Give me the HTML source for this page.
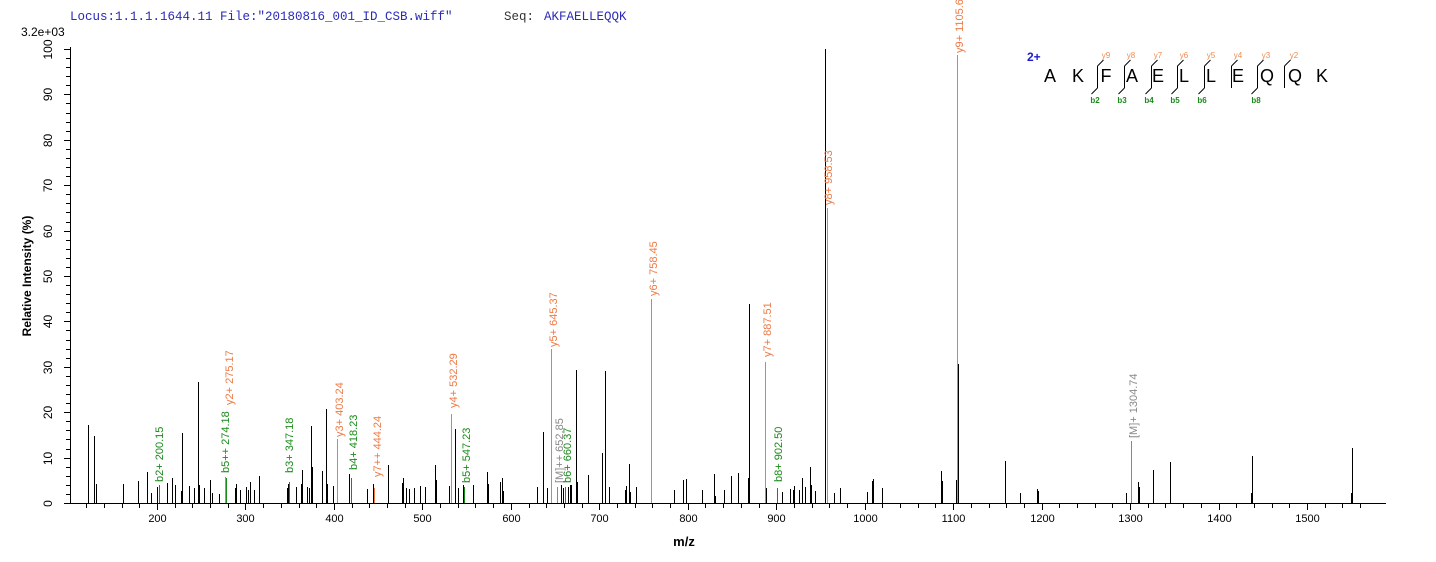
<!DOCTYPE html>
<html><head><meta charset="utf-8"><style>
html,body{margin:0;padding:0;background:#fff;width:1436px;height:562px;overflow:hidden}
svg{display:block}
text{font-family:"Liberation Sans",Arial,sans-serif}
</style></head><body>
<svg width="1436" height="562" xmlns="http://www.w3.org/2000/svg">
<text x="70" y="20" font-family="Liberation Mono,monospace" font-size="12.5" fill="#2a2ab8" style="font-family:'Liberation Mono',monospace">Locus:1.1.1.1644.11 File:"20180816_001_ID_CSB.wiff"</text>
<text x="504" y="20" font-size="12.5" fill="#333" style="font-family:'Liberation Mono',monospace">Seq:</text>
<text x="544" y="20" font-size="12.5" fill="#2a2ab8" style="font-family:'Liberation Mono',monospace">AKFAELLEQQK</text>
<text x="21" y="36" font-size="12" fill="#000">3.2e+03</text>
<g id="axes" stroke="#000" stroke-width="1" shape-rendering="crispEdges">
<line x1="70.5" y1="47" x2="70.5" y2="503"/>
<line x1="70" y1="503.5" x2="1386" y2="503.5"/>
</g>
<g id="yt" stroke="#000" shape-rendering="crispEdges"></g>
<g id="yl" font-size="12" fill="#000"></g>
<g id="xt" stroke="#000" shape-rendering="crispEdges"></g>
<g id="xl" font-size="11" fill="#000" text-anchor="middle"></g>
<text transform="translate(31,276) rotate(-90)" font-size="12" font-weight="bold" text-anchor="middle">Relative   Intensity (%)</text>
<text x="684" y="546" font-size="13" font-weight="bold" text-anchor="middle">m/z</text>
<g id="pk" stroke-width="1" shape-rendering="crispEdges"></g>
<g id="lb" font-size="11"></g>
<!-- legend -->
<text x="1027" y="61" font-size="12" font-weight="bold" fill="#1a1ad0">2+</text>
<g font-size="18" fill="#000" text-anchor="middle">
<text x="1050" y="82">A</text><text x="1078" y="82">K</text><text x="1106" y="82">F</text><text x="1132" y="82">A</text><text x="1158" y="82">E</text><text x="1184" y="82">L</text><text x="1211" y="82">L</text><text x="1238" y="82">E</text><text x="1267" y="82">Q</text><text x="1295" y="82">Q</text><text x="1322" y="82">K</text>
</g>
<g font-size="8" fill="#f08a50" text-anchor="middle">
<text x="1106" y="58">y9</text><text x="1131" y="58">y8</text><text x="1158" y="58">y7</text><text x="1184" y="58">y6</text><text x="1211" y="58">y5</text><text x="1238" y="58">y4</text><text x="1266" y="58">y3</text><text x="1294" y="58">y2</text>
</g>
<g font-size="8" fill="#1a8a1a" font-weight="bold" text-anchor="middle">
<text x="1095" y="103">b2</text><text x="1122" y="103">b3</text><text x="1149" y="103">b4</text><text x="1175" y="103">b5</text><text x="1202" y="103">b6</text><text x="1256" y="103">b8</text>
</g>
<g stroke="#000" stroke-width="1" fill="none" id="brk"></g>
</svg>
<script>
var NS="http://www.w3.org/2000/svg";
function el(g,t,a,txt){var e=document.createElementNS(NS,t);for(var k in a)e.setAttribute(k,a[k]);if(txt!==undefined)e.textContent=txt;document.getElementById(g).appendChild(e);return e;}
// y ticks
for(var v=0;v<=100;v+=2){var y=Math.round(503-4.54*v)+0.5;var maj=v%10==0;el('yt','line',{x1:maj?64:66,y1:y,x2:70,y2:y});
if(maj){el('yl','text',{transform:'translate(52,'+(y)+') rotate(-90)','text-anchor':'middle'},String(v));}}
// x ticks
function X(m){return 157+(m-200)*0.8846;}
for(var m=120;m<=1560;m+=20){var x=Math.round(X(m))+0.5;var maj=m%100==0;el('xt','line',{x1:x,y1:504,x2:x,y2:maj?510:508});
if(maj)el('xl','text',{x:x,y:522},String(m));}
// peaks [x, top, color]
var K='#000',O='#ee7a45',G='#1a8a1a',Y='#888';
var P=[[88,425],[94,436],[96,484],[123,484],[138,481],[147,472],[151,493],[157,487],[167,483],[172,478],[175,485],[181,491],[182,433],[189,486],[194,488],[198,382],[199,485],[204,488],[210,480],[212,493],[219,494],[235,488],[236,484],[240,490],[246,487],[248,490],[250,482],[254,490],[259,476],[287,488],[288,484],[296,487],[301,484],[302,470],[307,487],[309,488],[311,426],[312,467],[322,471],[326,409],[327,484],[333,486],[349,474],[367,489],[373,484],[388,465],
[402,483],[403,478],[406,488],[409,489],[414,488],[420,486],[425,487],[435,465],[436,480],[449,486],[455,429],[458,488],[463,485],[473,485],[487,472],[488,484],[500,482],[502,478],[503,491],[537,487],[543,432],[547,488],[561,485],[563,488],[568,487],[570,485],[571,485],[576,370],[577,482],[588,475],[602,453],[605,371],[609,487],[625,490],[626,486],[629,464],[630,492],[636,487],[674,490],[683,480],[686,479],[702,490],[714,474],[715,496],[724,490],[731,476],[738,473],[748,478],[749,304],[766,488],[782,492],[790,489],[793,490],[794,486],[799,490],[802,478],[805,487],[810,467],[811,485],[815,491],[825,49],[834,493],[840,488],[867,492],[872,481],[873,479],[882,488],[941,471],[942,481],[956,480],[958,364],[1005,461],[1020,493],[1037,489],[1038,491],[1126,493],[1138,482],[1139,487],[1153,470],[1170,462],[1251,493],[1252,456],[1351,493],[1352,448]];
P.forEach(function(p){el('pk','line',{x1:p[0]+0.5,y1:p[1],x2:p[0]+0.5,y2:503,stroke:K});});
var C=[[159,485,G],[225,477,O],[226,478,G],[289,482,G],[337,439,O],[351,478,G],[374,488,O],[451,414,O],[464,487,G],[551,349,O],[557,487,Y],[565,487,G],[651,299,O],[765,362,O],[777,488,G],[827,208,O],[957,55,O],[1131,441,Y]];
C.forEach(function(p){el('pk','line',{x1:p[0]+0.5,y1:p[1],x2:p[0]+0.5,y2:503,stroke:p[2]});});
// labels [x, bottom, text, color]
var L=[[159,482,'b2+ 200.15',G],[225,473,'b5++ 274.18',G],[229,405,'y2+ 275.17',O],[289,473,'b3+ 347.18',G],[339,437,'y3+ 403.24',O],[353,470,'b4+ 418.23',G],[377,477,'y7++ 444.24',O],[453,408,'y4+ 532.29',O],[466,483,'b5+ 547.23',G],[553,347,'y5+ 645.37',O],[559,483,'[M]++ 652.85',Y],[567,483,'b6+ 660.37',G],[653,296,'y6+ 758.45',O],[767,357,'y7+ 887.51',O],[778,482,'b8+ 902.50',G],[828,205,'y8+ 958.53',O],[959,53,'y9+ 1105.62',O],[1133,438,'[M]+ 1304.74',Y]];
L.forEach(function(l){el('lb','text',{transform:'translate('+(l[0]+4)+','+l[1]+') rotate(-90)',fill:l[3]},l[2]);});
// legend breaks
[1097,1124,1151,1177,1204,1231,1257,1284].forEach(function(x,i){el('brk','line',{x1:x+0.5,y1:66,x2:x+0.5,y2:88});el('brk','line',{x1:x+0.5,y1:66,x2:x+6.5,y2:60});});
[1097,1124,1151,1177,1204,1257].forEach(function(x){el('brk','line',{x1:x+0.5,y1:88,x2:x-5.5,y2:94});});
</script>
</body></html>
